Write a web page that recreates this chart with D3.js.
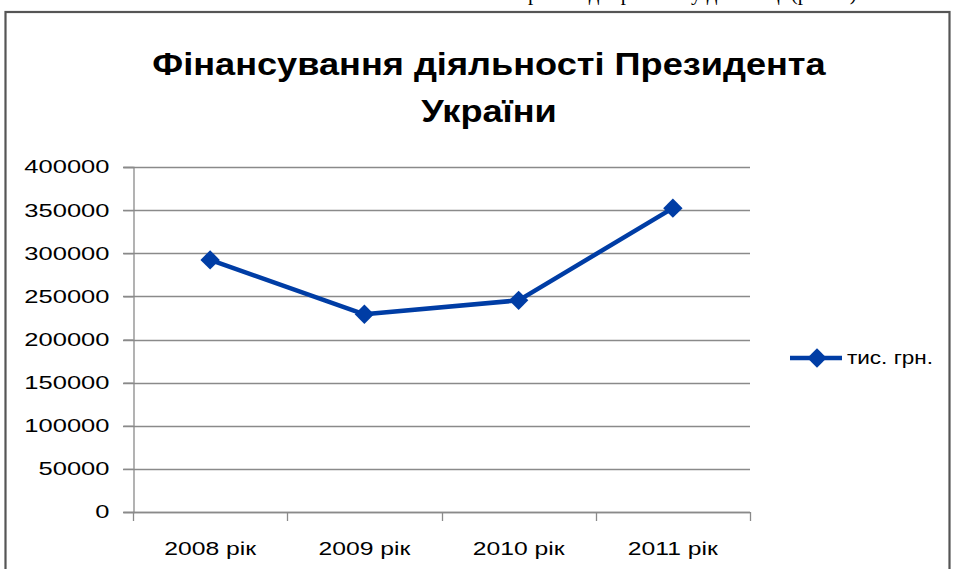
<!DOCTYPE html>
<html>
<head>
<meta charset="utf-8">
<script src="https://cdn.jsdelivr.net/npm/d3@7"></script>
<style>
    body { margin: 0; background: #fff; }
    svg { display: block; }
</style>
</head>
<body>
<div id="chart"></div>
<script>
// data
const years = ['2008 рік', '2009 рік', '2010 рік', '2011 рік'];
const funding = [292300, 229200, 245400, 352300];
const yTicks = [0, 50000, 100000, 150000, 200000, 250000, 300000, 350000, 400000];
const seriesName = 'тис. грн.';
const titleLines = ['Фінансування діяльності Президента', 'України'];

const width = 954;
const height = 569;
const blue = '#003da5';
const gridColor = '#8a8a8a';
const font = '"Liberation Sans", Arial, sans-serif';

const svg = d3.select('#chart')
    .append('svg')
    .attr('width', width)
    .attr('height', height);

// widen a text element the way the scanned chart is widened
function widen(sel, factor) {
    sel.each(function () {
        const w = this.getComputedTextLength();
        d3.select(this)
            .attr('textLength', w * factor)
            .attr('lengthAdjust', 'spacingAndGlyphs');
    });
}

// remains of the page text above the chart (cut by the page top, as in the scan)
svg.append('text')
    .attr('x', 862)
    .attr('y', 0)
    .attr('text-anchor', 'end')
    .style('font-family', '"Liberation Serif", "Times New Roman", serif')
    .style('font-size', '21px')
    .text('Витрати відображено у динаміці (рис. 2).');

// chart frame (runs off the right and bottom edges)
svg.append('rect')
    .attr('x', 5.5)
    .attr('y', 12)
    .attr('width', 944)
    .attr('height', 600)
    .attr('fill', 'none')
    .attr('stroke', '#555')
    .attr('stroke-width', 2.2);

// title
const title = svg.append('g')
    .style('font-family', font)
    .style('font-weight', 'bold')
    .style('font-size', '32px')
    .attr('fill', '#000');
title.selectAll('text')
    .data(titleLines)
    .join('text')
    .attr('x', 489)
    .attr('y', (d, i) => 75 + i * 47)
    .attr('text-anchor', 'middle')
    .text(d => d)
    .call(widen, 1.13);

// scales
const x = d3.scalePoint()
    .domain(years)
    .range([133, 750])
    .padding(0.5);
const xEdges = d3.range(years.length + 1).map(i => 133 + i * x.step());

const y = d3.scaleLinear()
    .domain([0, 400000])
    .range([512, 167]);

// gridlines
svg.append('g')
    .selectAll('line')
    .data(yTicks)
    .join('line')
    .attr('x1', 123)
    .attr('x2', 750)
    .attr('y1', d => Math.round(y(d)) + 0.5)
    .attr('y2', d => Math.round(y(d)) + 0.5)
    .attr('stroke', gridColor)
    .attr('stroke-width', 1.3);

// y axis
const yAxis = svg.append('g')
    .attr('transform', 'translate(133.5,0)')
    .call(d3.axisLeft(y).tickValues(yTicks).tickSize(10).tickPadding(14).tickFormat(d3.format('d')));
yAxis.select('.domain').attr('stroke', gridColor).attr('stroke-width', 1.3);
yAxis.selectAll('.tick line').attr('stroke', gridColor).attr('stroke-width', 1.3);
yAxis.selectAll('.tick text')
    .style('font-family', font)
    .style('font-size', '18.5px')
    .attr('fill', '#000')
    .call(widen, 1.38);

// x axis
const xAxisG = svg.append('g');
xAxisG.append('line')
    .attr('x1', 133).attr('x2', 750)
    .attr('y1', 512.5).attr('y2', 512.5)
    .attr('stroke', gridColor)
    .attr('stroke-width', 1.3);
xAxisG.selectAll('.edge')
    .data(xEdges)
    .join('line')
    .attr('class', 'edge')
    .attr('x1', d => Math.round(d) + 0.5)
    .attr('x2', d => Math.round(d) + 0.5)
    .attr('y1', 512)
    .attr('y2', 521)
    .attr('stroke', gridColor)
    .attr('stroke-width', 1.3);
xAxisG.selectAll('.lbl')
    .data(years)
    .join('text')
    .attr('class', 'lbl')
    .attr('x', d => x(d))
    .attr('y', 555)
    .attr('text-anchor', 'middle')
    .style('font-family', font)
    .style('font-size', '19px')
    .attr('fill', '#000')
    .text(d => d)
    .call(widen, 1.3);

// series line
const line = d3.line()
    .x((d, i) => x(years[i]))
    .y(d => y(d));

svg.append('path')
    .datum(funding)
    .attr('d', line)
    .attr('fill', 'none')
    .attr('stroke', blue)
    .attr('stroke-width', 4.5)
    .attr('stroke-linejoin', 'round');

const diamond = d3.symbol().type(d3.symbolDiamond2).size(240);
svg.append('g')
    .selectAll('path')
    .data(funding)
    .join('path')
    .attr('transform', (d, i) => `translate(${x(years[i])},${y(d)})`)
    .attr('d', diamond)
    .attr('fill', blue);

// legend
const legend = svg.append('g').attr('transform', 'translate(790,358)');
legend.append('line')
    .attr('x1', 0).attr('x2', 52)
    .attr('stroke', blue)
    .attr('stroke-width', 4.5);
legend.append('path')
    .attr('transform', 'translate(27,0)')
    .attr('d', diamond)
    .attr('fill', blue);
legend.append('text')
    .attr('x', 57)
    .attr('y', 0)
    .attr('dy', '0.35em')
    .style('font-family', font)
    .style('font-size', '18px')
    .attr('fill', '#000')
    .text(seriesName)
    .call(widen, 1.25);
</script>
</body>
</html>
